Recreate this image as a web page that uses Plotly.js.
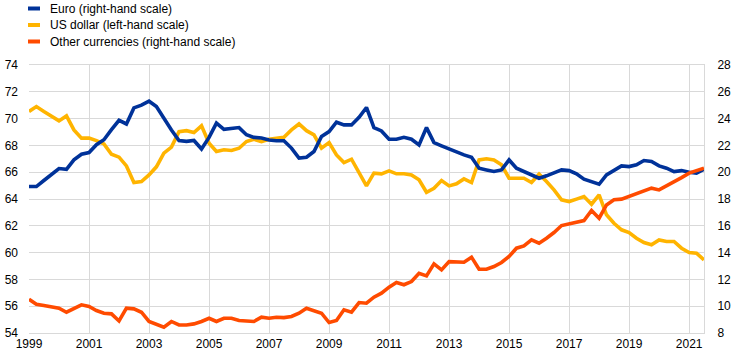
<!DOCTYPE html>
<html>
<head>
<meta charset="utf-8">
<script src="https://cdn.plot.ly/plotly-3.0.1.min.js"></script>
<style>
html,body{margin:0;padding:0;background:#fff;}
#chart{width:743px;height:361px;}
</style>
</head>
<body>
<div id="chart"></div>
<script>
// Quarterly observations, 1999 Q1 - 2021 Q3
var firstYear = 1999;
var nQuarters = 91;

var seriesNames = ["Euro (right-hand scale)", "US dollar (left-hand scale)", "Other currencies (right-hand scale)"];
var seriesColors = ["#003299", "#FFB400", "#FF4B00"];

// Euro share (right-hand scale, %)
var euro = [18.93,18.93,19.38,19.85,20.27,20.22,20.92,21.34,21.47,22.05,
22.42,23.17,23.87,23.6,24.8,25.0,25.3,24.9,24.0,23.15,
22.37,22.3,22.37,21.73,22.6,23.66,23.2,23.28,23.33,22.8,
22.6,22.55,22.4,22.35,22.35,21.8,21.05,21.12,21.54,22.66,
23.03,23.73,23.53,23.53,24.1,24.83,23.33,23.08,22.46,22.46,
22.6,22.46,22.04,23.33,22.21,21.97,21.72,21.54,21.29,21.12,
20.3,20.17,20.05,20.17,20.92,20.3,20.05,19.8,19.55,19.73,
19.93,20.17,20.12,19.88,19.48,19.3,19.1,19.8,20.12,20.47,
20.42,20.55,20.87,20.8,20.47,20.3,20.05,20.12,20.0,19.93,
20.22];

// US dollar share (left-hand scale, %)
var usd = [70.53,70.9,70.53,70.15,69.83,70.2,69.16,68.54,68.54,68.36,
68.11,67.34,67.12,66.47,65.23,65.3,65.8,66.4,67.42,67.87,
69.03,69.1,68.96,69.46,68.16,67.54,67.67,67.62,67.79,68.29,
68.46,68.29,68.46,68.54,68.61,69.16,69.6,69.1,68.79,67.79,
68.21,67.29,66.72,66.97,65.93,64.98,65.93,65.88,66.1,65.88,
65.88,65.8,65.43,64.5,64.8,65.38,64.98,65.13,65.5,65.23,
66.92,67.0,66.92,66.55,65.55,65.55,65.55,65.23,65.85,65.3,
64.68,63.94,63.81,63.99,64.18,63.61,64.31,62.82,62.19,61.7,
61.5,61.07,60.75,60.58,60.95,60.83,60.83,60.33,60.0,59.96,
59.46];

// Other currencies share (right-hand scale, %)
var other = [10.52,10.15,10.05,9.93,9.85,9.55,9.85,10.1,9.98,9.68,
9.48,9.43,8.9,9.85,9.8,9.55,8.86,8.68,8.43,8.86,
8.6,8.6,8.68,8.86,9.1,8.86,9.1,9.1,8.93,8.9,
8.86,9.18,9.1,9.18,9.15,9.23,9.48,9.85,9.68,9.48,
8.78,8.93,9.73,9.55,10.27,10.22,10.67,10.97,11.42,11.77,
11.6,11.84,12.46,12.26,13.16,12.71,13.33,13.33,13.28,13.66,
12.76,12.76,12.96,13.26,13.71,14.33,14.5,14.95,14.7,15.07,
15.5,16.02,16.14,16.29,16.39,17.14,16.57,17.56,17.94,17.99,
18.18,18.43,18.56,18.81,18.68,18.98,19.23,19.6,19.93,20.1,
20.3];

var tickYears = ["1999","2001","2003","2005","2007","2009","2011","2013","2015","2017","2019","2021"];

// quarter dates (category positions)
var quarters = [];
var months = ["01","04","07","10"];
for (var i = 0; i < nQuarters; i++) {
  var y = firstYear + Math.floor(i / 4);
  quarters.push(y + "-" + months[i % 4] + "-01");
}

var FONT = 'Arial, "Liberation Sans", sans-serif';
var lw = 3.6;

var traces = [
  {x: quarters, y: usd, name: seriesNames[1], type: "scatter", mode: "lines",
   line: {color: seriesColors[1], width: lw}, yaxis: "y"},
  {x: quarters, y: euro, name: seriesNames[0], type: "scatter", mode: "lines",
   line: {color: seriesColors[0], width: lw}, yaxis: "y2"},
  {x: quarters, y: other, name: seriesNames[2], type: "scatter", mode: "lines",
   line: {color: seriesColors[2], width: lw}, yaxis: "y2"}
];

var W = 743, H = 361, ml = 29, mr = 39, mt = 65, mb = 28;
var pw = W - ml - mr, ph = H - mt - mb;
function px2x(p){ return (p - ml) / pw; }
function py2y(p){ return (H - mb - p) / ph; }

var legendRows = [8.5, 25, 41.5];
var legendOrder = [0, 1, 2];
var shapes = [], annotations = [];
legendOrder.forEach(function(k, r){
  shapes.push({type: "line", xref: "paper", yref: "paper",
    x0: px2x(28), x1: px2x(40), y0: py2y(legendRows[r]), y1: py2y(legendRows[r]),
    line: {color: seriesColors[k], width: 4}});
  annotations.push({xref: "paper", yref: "paper", x: px2x(48), y: py2y(legendRows[r]),
    xanchor: "left", yanchor: "middle", showarrow: false, text: seriesNames[k],
    font: {family: FONT, size: 12, color: "#000"}});
});

var layout = {
  width: W, height: H,
  margin: {l: ml, r: mr, t: mt, b: mb, pad: 0},
  paper_bgcolor: "#fff", plot_bgcolor: "#fff",
  showlegend: false,
  font: {family: FONT, size: 12, color: "#000"},
  xaxis: {
    type: "date",
    range: ["1999-01-01", "2021-07-01"],
    tickvals: tickYears.map(function(y){ return y + "-01-01"; }),
    ticktext: tickYears,
    showgrid: true, gridcolor: "#d9d9d9", gridwidth: 1,
    showline: true, linecolor: "#d9d9d9", linewidth: 1, mirror: true,
    ticks: "", zeroline: false,
    tickfont: {family: FONT, size: 12, color: "#000"}
  },
  yaxis: {
    range: [54, 74], dtick: 2, tick0: 54,
    showgrid: true, gridcolor: "#d9d9d9", gridwidth: 1,
    showline: false, zeroline: false, ticks: "",
    ticklabelstandoff: 10,
    tickfont: {family: FONT, size: 12, color: "#000"}
  },
  yaxis2: {
    range: [8, 28], dtick: 2, tick0: 8,
    overlaying: "y", side: "right",
    showgrid: false, zeroline: false, ticks: "",
    showline: true, linecolor: "#d9d9d9", linewidth: 1,
    ticklabelstandoff: 10,
    tickfont: {family: FONT, size: 12, color: "#000"}
  },
  shapes: shapes,
  annotations: annotations
};

Plotly.newPlot("chart", traces, layout, {displayModeBar: false, staticPlot: true});
</script>
</body>
</html>
